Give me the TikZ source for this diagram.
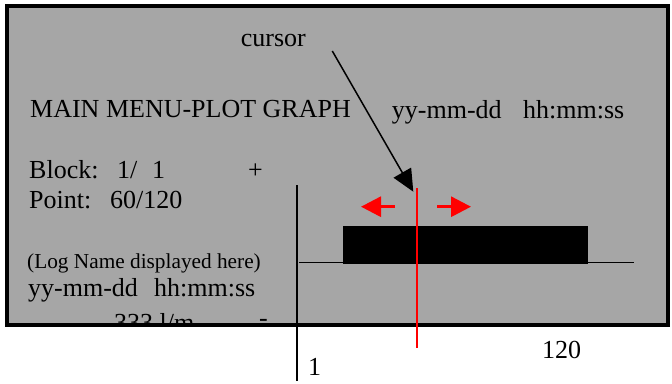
\documentclass[tikz,border=0pt]{standalone}
\usepackage{fontspec}
\setmainfont{Liberation Serif}
\usetikzlibrary{arrows.meta}
\definecolor{panel}{RGB}{166,166,166}
\begin{document}
\begin{tikzpicture}[x=1pt,y=-1pt,
  txt/.style={anchor=base west,inner sep=0pt,font=\fontsize{26}{26}\selectfont},
  small/.style={anchor=base west,inner sep=0pt,font=\fontsize{21.3}{22}\selectfont},
  thin/.style={line width=1.5pt},
  redline/.style={red,line width=2pt},
  redarrow/.style={red,line width=3pt,-{Triangle[length=20pt,width=20pt]}}]
\useasboundingbox (0,0) rectangle (672,383);
% panel
\fill[panel] (6.8,5.6) rectangle (667.8,324.7);
% texts inside panel
\node[txt] (cursor) at (240.7,46.7) {cursor};
\node[txt] (title) at (30,117.5) {MAIN MENU-PLOT GRAPH};
\node[txt] (date1) at (391.7,118.5) {yy-mm-dd};
\node[txt] (time1) at (523,118.5) {hh:mm:ss};
\node[txt] (block) at (29,178) {Block:};
\node[txt] (blockv) at (117,178) {1/};
\node[txt] (blockn) at (152,178) {1};
\node[txt] (plus) at (248,178) {+};
\node[txt] (point) at (29,208) {Point:};
\node[txt] (pointv) at (110,208) {60/120};
\node[small] (logname) at (27,268) {(Log Name displayed here)};
\node[txt] (date2) at (28,296) {yy-mm-dd};
\node[txt] (time2) at (154,296) {hh:mm:ss};
\node[txt] (rate) at (114,331) {333 l/m};
\node[txt] (minus) at (259,326) {-};
% mask below panel
\fill[white] (0,326.7) rectangle (672,383);
% panel border
\draw[line width=4pt] (6.8,5.6) rectangle (667.8,324.7);
% graph
\coordinate (axtop) at (297,185);
\coordinate (axbot) at (297,381);
\draw[thin] (axtop) -- (axbot);
\coordinate (bl) at (299,262.3);
\coordinate (br) at (634,262.3);
\draw[thin] (bl) -- (br);
\fill (343,225.7) rectangle (588,264.3);
\node[txt] (n120) at (542,358) {120};
\node[txt] (n1) at (308,375) {1};
% cursor line
\coordinate (ctop) at (417.3,188);
\coordinate (cbot) at (417.3,348);
\draw[redline] (ctop) -- (cbot);
\coordinate (la) at (395,206.7);
\coordinate (lb) at (361,206.7);
\coordinate (ra) at (437,206.7);
\coordinate (rb) at (471,206.7);
\draw[redarrow] (la) -- (lb);
\draw[redarrow] (ra) -- (rb);
% cursor pointer
\coordinate (cs) at (332.3,51);
\coordinate (ce) at (413.3,191.7);
\draw[thin,-{Triangle[length=22pt,width=20pt]}] (cs) -- (ce);
\end{tikzpicture}
\end{document}
